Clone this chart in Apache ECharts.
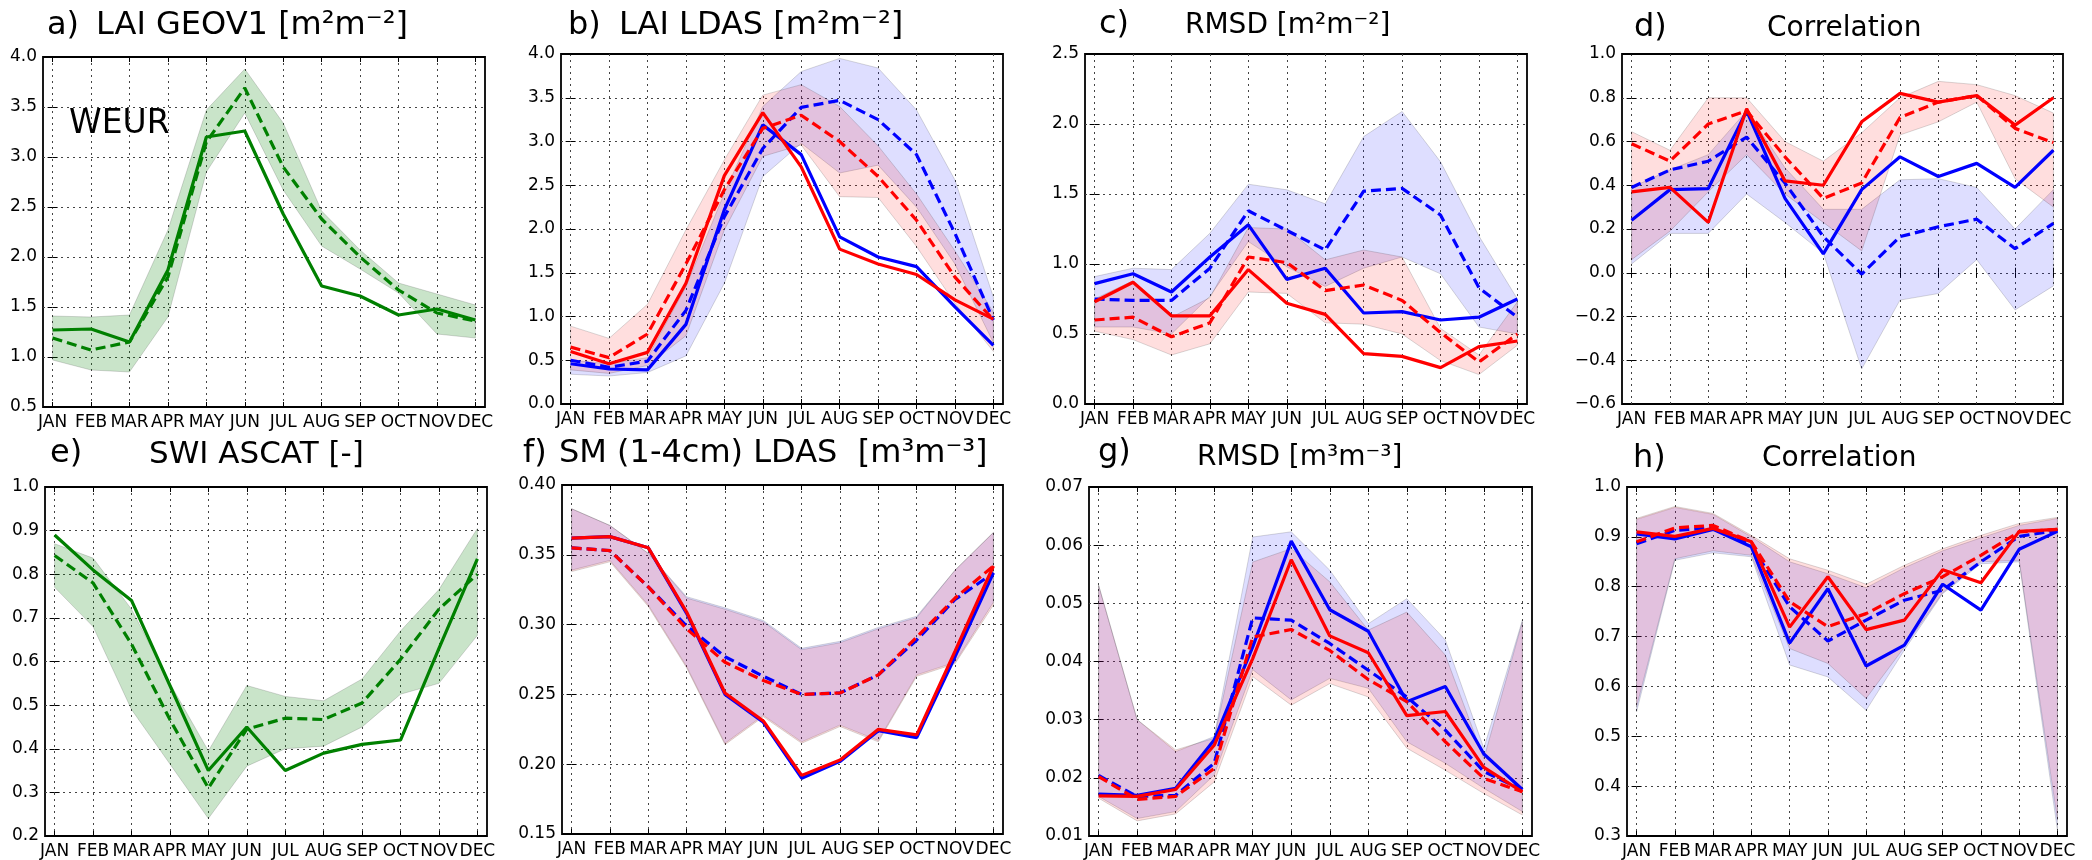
<!DOCTYPE html>
<html>
<head>
<meta charset="utf-8">
<script src="https://cdn.jsdelivr.net/npm/echarts@6/dist/echarts.min.js"></script>
<style>
  html, body { margin: 0; padding: 0; background: #fff; }
  #main { width: 2092px; height: 860px; }
</style>
</head>
<body>
<div id="main"></div>
<script>
const months = ['JAN', 'FEB', 'MAR', 'APR', 'MAY', 'JUN', 'JUL', 'AUG', 'SEP', 'OCT', 'NOV', 'DEC'];

// a) LAI GEOV1
const aSolid = [1.27, 1.28, 1.15, 1.87, 3.20, 3.26, 2.43, 1.71, 1.61, 1.42, 1.48, 1.37];
const aDashed = [1.19, 1.07, 1.15, 1.80, 3.15, 3.69, 2.90, 2.38, 2.00, 1.67, 1.44, 1.36];
const aHigh = [1.41, 1.40, 1.42, 2.27, 3.47, 3.88, 3.34, 2.46, 2.07, 1.74, 1.63, 1.52];
const aLow = [0.97, 0.87, 0.85, 1.40, 2.85, 3.44, 2.67, 2.11, 1.88, 1.64, 1.23, 1.19];

// b) LAI LDAS
const bRedSolid = [0.60, 0.46, 0.59, 1.38, 2.61, 3.33, 2.71, 1.77, 1.60, 1.48, 1.19, 0.97];
const bRedDashed = [0.65, 0.53, 0.80, 1.60, 2.45, 3.15, 3.30, 3.00, 2.60, 2.10, 1.45, 0.96];
const bBlueSolid = [0.46, 0.40, 0.39, 0.91, 2.22, 3.19, 2.85, 1.91, 1.68, 1.57, 1.11, 0.67];
const bBlueDashed = [0.50, 0.42, 0.49, 1.07, 2.14, 2.92, 3.39, 3.47, 3.25, 2.85, 1.95, 0.96];
const bRedHigh = [0.89, 0.75, 1.14, 1.99, 2.79, 3.53, 3.65, 3.40, 2.95, 2.40, 1.75, 1.05];
const bRedLow = [0.39, 0.35, 0.44, 0.78, 1.99, 2.83, 2.96, 2.37, 2.36, 1.80, 1.15, 0.60];
const bBlueHigh = [0.50, 0.46, 0.53, 1.34, 2.41, 3.40, 3.80, 3.95, 3.84, 3.36, 2.56, 1.22];
const bBlueLow = [0.34, 0.32, 0.36, 0.55, 1.38, 2.60, 2.98, 2.64, 2.73, 2.25, 1.60, 0.70];

// c) RMSD LAI
const cBlueSolid = [0.86, 0.93, 0.80, 1.05, 1.28, 0.89, 0.97, 0.65, 0.66, 0.60, 0.62, 0.75];
const cBlueDashed = [0.75, 0.74, 0.74, 0.97, 1.38, 1.24, 1.10, 1.52, 1.54, 1.35, 0.83, 0.62];
const cRedSolid = [0.73, 0.87, 0.63, 0.63, 0.96, 0.72, 0.64, 0.36, 0.34, 0.26, 0.41, 0.45];
const cRedDashed = [0.60, 0.62, 0.48, 0.58, 1.05, 1.01, 0.81, 0.85, 0.74, 0.51, 0.30, 0.50];
const cBlueHigh = [0.91, 0.97, 0.96, 1.22, 1.57, 1.53, 1.43, 1.91, 2.09, 1.73, 1.20, 0.75];
const cBlueLow = [0.55, 0.55, 0.50, 0.77, 1.16, 0.98, 0.84, 0.97, 1.05, 0.93, 0.55, 0.50];
const cRedHigh = [0.75, 0.88, 0.62, 0.76, 1.26, 1.25, 1.03, 1.10, 1.05, 0.54, 0.35, 0.73];
const cRedLow = [0.52, 0.46, 0.35, 0.43, 0.80, 0.79, 0.58, 0.57, 0.50, 0.31, 0.21, 0.42];

// d) Correlation LAI
const dRedSolid = [0.37, 0.39, 0.23, 0.75, 0.42, 0.40, 0.69, 0.82, 0.78, 0.81, 0.675, 0.80];
const dRedDashed = [0.59, 0.51, 0.68, 0.74, 0.53, 0.34, 0.41, 0.71, 0.78, 0.81, 0.66, 0.595];
const dBlueSolid = [0.24, 0.38, 0.385, 0.74, 0.34, 0.086, 0.38, 0.53, 0.44, 0.50, 0.39, 0.56];
const dBlueDashed = [0.39, 0.47, 0.51, 0.62, 0.41, 0.165, -0.006, 0.165, 0.21, 0.245, 0.11, 0.226];
const dRedHigh = [0.645, 0.56, 0.80, 0.80, 0.60, 0.51, 0.64, 0.80, 0.875, 0.86, 0.81, 0.73];
const dRedLow = [0.06, 0.19, 0.37, 0.54, 0.36, 0.23, 0.10, 0.63, 0.69, 0.78, 0.43, 0.30];
const dBlueHigh = [0.39, 0.47, 0.54, 0.74, 0.48, 0.29, 0.29, 0.425, 0.43, 0.39, 0.20, 0.38];
const dBlueLow = [0.04, 0.18, 0.18, 0.36, 0.23, 0.09, -0.44, -0.125, -0.095, 0.06, -0.17, -0.06];

// e) SWI ASCAT
const eSolid = [0.89, 0.81, 0.74, 0.545, 0.35, 0.45, 0.35, 0.39, 0.41, 0.42, 0.63, 0.835];
const eDashed = [0.843, 0.78, 0.64, 0.467, 0.31, 0.445, 0.47, 0.467, 0.505, 0.605, 0.72, 0.80];
const eHigh = [0.87, 0.837, 0.72, 0.55, 0.395, 0.545, 0.52, 0.51, 0.56, 0.67, 0.765, 0.905];
const eLow = [0.77, 0.68, 0.49, 0.365, 0.24, 0.36, 0.40, 0.406, 0.45, 0.525, 0.55, 0.66];

// f) SM (1-4cm) LDAS
const fRedSolid = [0.362, 0.363, 0.355, 0.309, 0.251, 0.231, 0.192, 0.203, 0.225, 0.221, 0.281, 0.342];
const fBlueSolid = [0.362, 0.363, 0.355, 0.308, 0.250, 0.230, 0.190, 0.202, 0.224, 0.219, 0.277, 0.337];
const fRedDashed = [0.355, 0.353, 0.327, 0.297, 0.273, 0.260, 0.250, 0.251, 0.264, 0.291, 0.319, 0.342];
const fBlueDashed = [0.355, 0.353, 0.327, 0.299, 0.277, 0.263, 0.250, 0.251, 0.264, 0.289, 0.318, 0.337];
const fRedHigh = [0.383, 0.371, 0.351, 0.319, 0.311, 0.302, 0.282, 0.287, 0.297, 0.305, 0.339, 0.366];
const fRedLow = [0.338, 0.345, 0.313, 0.269, 0.214, 0.234, 0.215, 0.227, 0.216, 0.263, 0.272, 0.314];
const fBlueHigh = [0.383, 0.371, 0.351, 0.320, 0.312, 0.303, 0.283, 0.288, 0.298, 0.306, 0.339, 0.366];
const fBlueLow = [0.339, 0.346, 0.314, 0.270, 0.215, 0.235, 0.216, 0.228, 0.217, 0.264, 0.273, 0.316];

// g) RMSD SM
const gBlueSolid = [0.0172, 0.0170, 0.0182, 0.0265, 0.0425, 0.0607, 0.0489, 0.0452, 0.0331, 0.0357, 0.0241, 0.0180];
const gRedSolid = [0.0169, 0.0168, 0.0180, 0.0256, 0.0405, 0.0575, 0.0444, 0.0415, 0.0307, 0.0314, 0.0218, 0.0176];
const gBlueDashed = [0.0204, 0.0168, 0.0170, 0.0225, 0.0475, 0.0471, 0.0431, 0.0385, 0.0339, 0.0282, 0.0211, 0.0179];
const gRedDashed = [0.0202, 0.0163, 0.0168, 0.0216, 0.0442, 0.0455, 0.0419, 0.0369, 0.0331, 0.0262, 0.0199, 0.0176];
const gBlueHigh = [0.0531, 0.0300, 0.0245, 0.0271, 0.0614, 0.0623, 0.0557, 0.0465, 0.0508, 0.0437, 0.0251, 0.0471];
const gRedHigh = [0.0531, 0.0300, 0.0248, 0.0268, 0.0571, 0.0594, 0.0537, 0.0454, 0.0485, 0.0411, 0.0233, 0.0468];
const gBlueLow = [0.0168, 0.0130, 0.0142, 0.0205, 0.0386, 0.0334, 0.0371, 0.0354, 0.0262, 0.0225, 0.0182, 0.0142];
const gRedLow = [0.0165, 0.0126, 0.0138, 0.0193, 0.0374, 0.0325, 0.0362, 0.0339, 0.0251, 0.0213, 0.0173, 0.0136];

// h) Correlation SM
const hRedSolid = [0.910, 0.901, 0.917, 0.890, 0.719, 0.820, 0.714, 0.733, 0.834, 0.808, 0.911, 0.915];
const hBlueSolid = [0.906, 0.896, 0.915, 0.880, 0.687, 0.796, 0.641, 0.683, 0.805, 0.753, 0.875, 0.911];
const hRedDashed = [0.890, 0.918, 0.923, 0.890, 0.770, 0.720, 0.746, 0.786, 0.820, 0.863, 0.910, 0.915];
const hBlueDashed = [0.886, 0.913, 0.918, 0.883, 0.760, 0.691, 0.733, 0.773, 0.793, 0.850, 0.901, 0.913];
const hRedHigh = [0.937, 0.961, 0.947, 0.903, 0.856, 0.833, 0.805, 0.843, 0.876, 0.903, 0.927, 0.939];
const hBlueHigh = [0.935, 0.959, 0.945, 0.900, 0.850, 0.826, 0.798, 0.838, 0.872, 0.898, 0.923, 0.937];
const hRedLow = [0.559, 0.856, 0.872, 0.863, 0.676, 0.646, 0.576, 0.679, 0.788, 0.850, 0.853, 0.332];
const hBlueLow = [0.549, 0.853, 0.868, 0.860, 0.643, 0.619, 0.552, 0.673, 0.786, 0.846, 0.850, 0.312];

// y axis ranges per panel: [min, max, interval, decimals]
const yRanges = [
  [0.5, 4.0, 0.5, 1], [0, 4.0, 0.5, 1], [0, 2.5, 0.5, 1], [-0.6, 1.0, 0.2, 1],
  [0.2, 1.0, 0.1, 1], [0.15, 0.40, 0.05, 2], [0.01, 0.07, 0.01, 2], [0.3, 1.0, 0.1, 1]
];

const FONT = 'DejaVu Sans';
const RED = '#ff0000', BLUE = '#0000ff', GREEN = '#008000';
const RED_FILL = 'rgba(255,0,0,0.13)', BLUE_FILL = 'rgba(0,0,255,0.13)', GREEN_FILL = 'rgba(0,128,0,0.21)';

const grids = [
  { left: 43, top: 57, width: 442, height: 350 },
  { left: 561, top: 54, width: 442, height: 350 },
  { left: 1085, top: 54, width: 442, height: 350 },
  { left: 1622, top: 54, width: 441, height: 350 },
  { left: 45, top: 487, width: 442, height: 350 },
  { left: 562, top: 485, width: 441, height: 349 },
  { left: 1089, top: 487, width: 443, height: 349 },
  { left: 1627, top: 487, width: 440, height: 349 }
].map(g => Object.assign({ show: true, borderColor: '#000', borderWidth: 1.8, backgroundColor: 'transparent' }, g));

const tickIdx = months.map((m, i) => i);
const dotted = { color: '#444', type: [2, 4], width: 1 };

function fmtY(dec) {
  return v => {
    if (Math.abs(v) < 1e-9) v = 0;
    const s = Math.abs(v).toFixed(dec);
    return v < 0 ? '\u2212' + s : s;
  };
}

const xAxes = [], yAxes = [];
grids.forEach((g, i) => {
  xAxes.push({
    type: 'value', gridIndex: i, min: -0.25, max: 11.25,
    axisLine: { show: false },
    axisTick: { show: true, inside: true, length: 5, customValues: tickIdx, lineStyle: { color: '#000' } },
    axisLabel: { customValues: tickIdx, formatter: v => months[Math.round(v)], fontFamily: FONT, fontSize: 17, color: '#000', margin: 7 },
    splitLine: { show: true, lineStyle: dotted }
  });
  const r = yRanges[i];
  yAxes.push({
    type: 'value', gridIndex: i, min: r[0], max: r[1], interval: r[2],
    axisLine: { show: false },
    axisTick: { show: true, inside: true, length: 5, lineStyle: { color: '#000' } },
    axisLabel: { formatter: fmtY(r[3]), fontFamily: FONT, fontSize: 17, color: '#000', margin: 6 },
    splitLine: { show: true, showMinLine: false, showMaxLine: false, lineStyle: dotted }
  });
});
// tick marks on the top and right edges
grids.forEach((g, i) => {
  const r = yRanges[i];
  xAxes.push({
    type: 'value', gridIndex: i, position: 'top', min: -0.25, max: 11.25,
    axisLine: { show: false }, axisLabel: { show: false }, splitLine: { show: false },
    axisTick: { show: true, inside: true, length: 5, customValues: tickIdx, lineStyle: { color: '#000' } }
  });
  yAxes.push({
    type: 'value', gridIndex: i, position: 'right', min: r[0], max: r[1], interval: r[2],
    axisLine: { show: false }, axisLabel: { show: false }, splitLine: { show: false },
    axisTick: { show: true, inside: true, length: 5, lineStyle: { color: '#000' } }
  });
});

function pts(arr) { return arr.map((v, i) => [i, v]); }

// min/max envelope drawn as one polygon through the axis scales
function band(g, low, high, fill) {
  return {
    type: 'custom', xAxisIndex: g, yAxisIndex: g, silent: true, z: 1,
    data: [[0, low[0]]],
    renderItem: (params, api) => {
      const top = high.map((v, i) => api.coord([i, v]));
      const bottom = low.map((v, i) => api.coord([i, v])).reverse();
      return {
        type: 'polygon',
        shape: { points: top.concat(bottom) },
        style: { fill: fill, stroke: 'rgba(0,0,0,0.15)', lineWidth: 1 }
      };
    }
  };
}

function line(g, arr, color, dashed) {
  return { type: 'line', xAxisIndex: g, yAxisIndex: g, data: pts(arr), symbol: 'none', silent: true, z: 2,
    lineStyle: { color: color, width: 3.2, type: dashed ? [10, 5] : 'solid' } };
}

function redBlue(g, bh, bl, rh, rl, bs, bd, rs, rd) {
  return [
    band(g, bl, bh, BLUE_FILL), band(g, rl, rh, RED_FILL),
    line(g, bs, BLUE, false), line(g, bd, BLUE, true), line(g, rs, RED, false), line(g, rd, RED, true)
  ];
}

const series = [].concat(
  [band(0, aLow, aHigh, GREEN_FILL), line(0, aSolid, GREEN, false), line(0, aDashed, GREEN, true)],
  redBlue(1, bBlueHigh, bBlueLow, bRedHigh, bRedLow, bBlueSolid, bBlueDashed, bRedSolid, bRedDashed),
  redBlue(2, cBlueHigh, cBlueLow, cRedHigh, cRedLow, cBlueSolid, cBlueDashed, cRedSolid, cRedDashed),
  redBlue(3, dBlueHigh, dBlueLow, dRedHigh, dRedLow, dBlueSolid, dBlueDashed, dRedSolid, dRedDashed),
  [band(4, eLow, eHigh, GREEN_FILL), line(4, eSolid, GREEN, false), line(4, eDashed, GREEN, true)],
  redBlue(5, fBlueHigh, fBlueLow, fRedHigh, fRedLow, fBlueSolid, fBlueDashed, fRedSolid, fRedDashed),
  redBlue(6, gBlueHigh, gBlueLow, gRedHigh, gRedLow, gBlueSolid, gBlueDashed, gRedSolid, gRedDashed),
  redBlue(7, hBlueHigh, hBlueLow, hRedHigh, hRedLow, hBlueSolid, hBlueDashed, hRedSolid, hRedDashed)
);

// [text, left, top, fontSize]
const titleSpecs = [
  ['a)', 47, 10, 32], ['LAI GEOV1 [m\u00b2m\u207b\u00b2]', 96, 10, 32],
  ['b)', 568, 10, 32], ['LAI LDAS [m\u00b2m\u207b\u00b2]', 619, 10, 32],
  ['c)', 1099, 9, 32], ['RMSD [m\u00b2m\u207b\u00b2]', 1185, 12, 28],
  ['d)', 1634, 12, 32], ['Correlation', 1767, 15, 28],
  ['e)', 50, 438, 32], ['SWI ASCAT [-]', 149, 439, 31],
  ['f)', 523, 438, 32], ['SM (1-4cm) LDAS  [m\u00b3m\u207b\u00b3]', 559, 438, 32],
  ['g)', 1098, 437, 32], ['RMSD [m\u00b3m\u207b\u00b3]', 1197, 444, 28],
  ['h)', 1633, 443, 32], ['Correlation', 1762, 445, 28],
  ['WEUR', 69, 108, 33]
];
const titles = titleSpecs.map(t => ({
  text: t[0], left: t[1], top: t[2], padding: 0,
  textStyle: { fontFamily: FONT, fontSize: t[3], fontWeight: 'normal', color: '#000' }
}));

const chart = echarts.init(document.getElementById('main'), null, { renderer: 'canvas' });
chart.setOption({
  animation: false,
  backgroundColor: '#fff',
  title: titles,
  grid: grids,
  xAxis: xAxes,
  yAxis: yAxes,
  series: series
});
window.addEventListener('resize', () => chart.resize());
</script>
</body>
</html>
